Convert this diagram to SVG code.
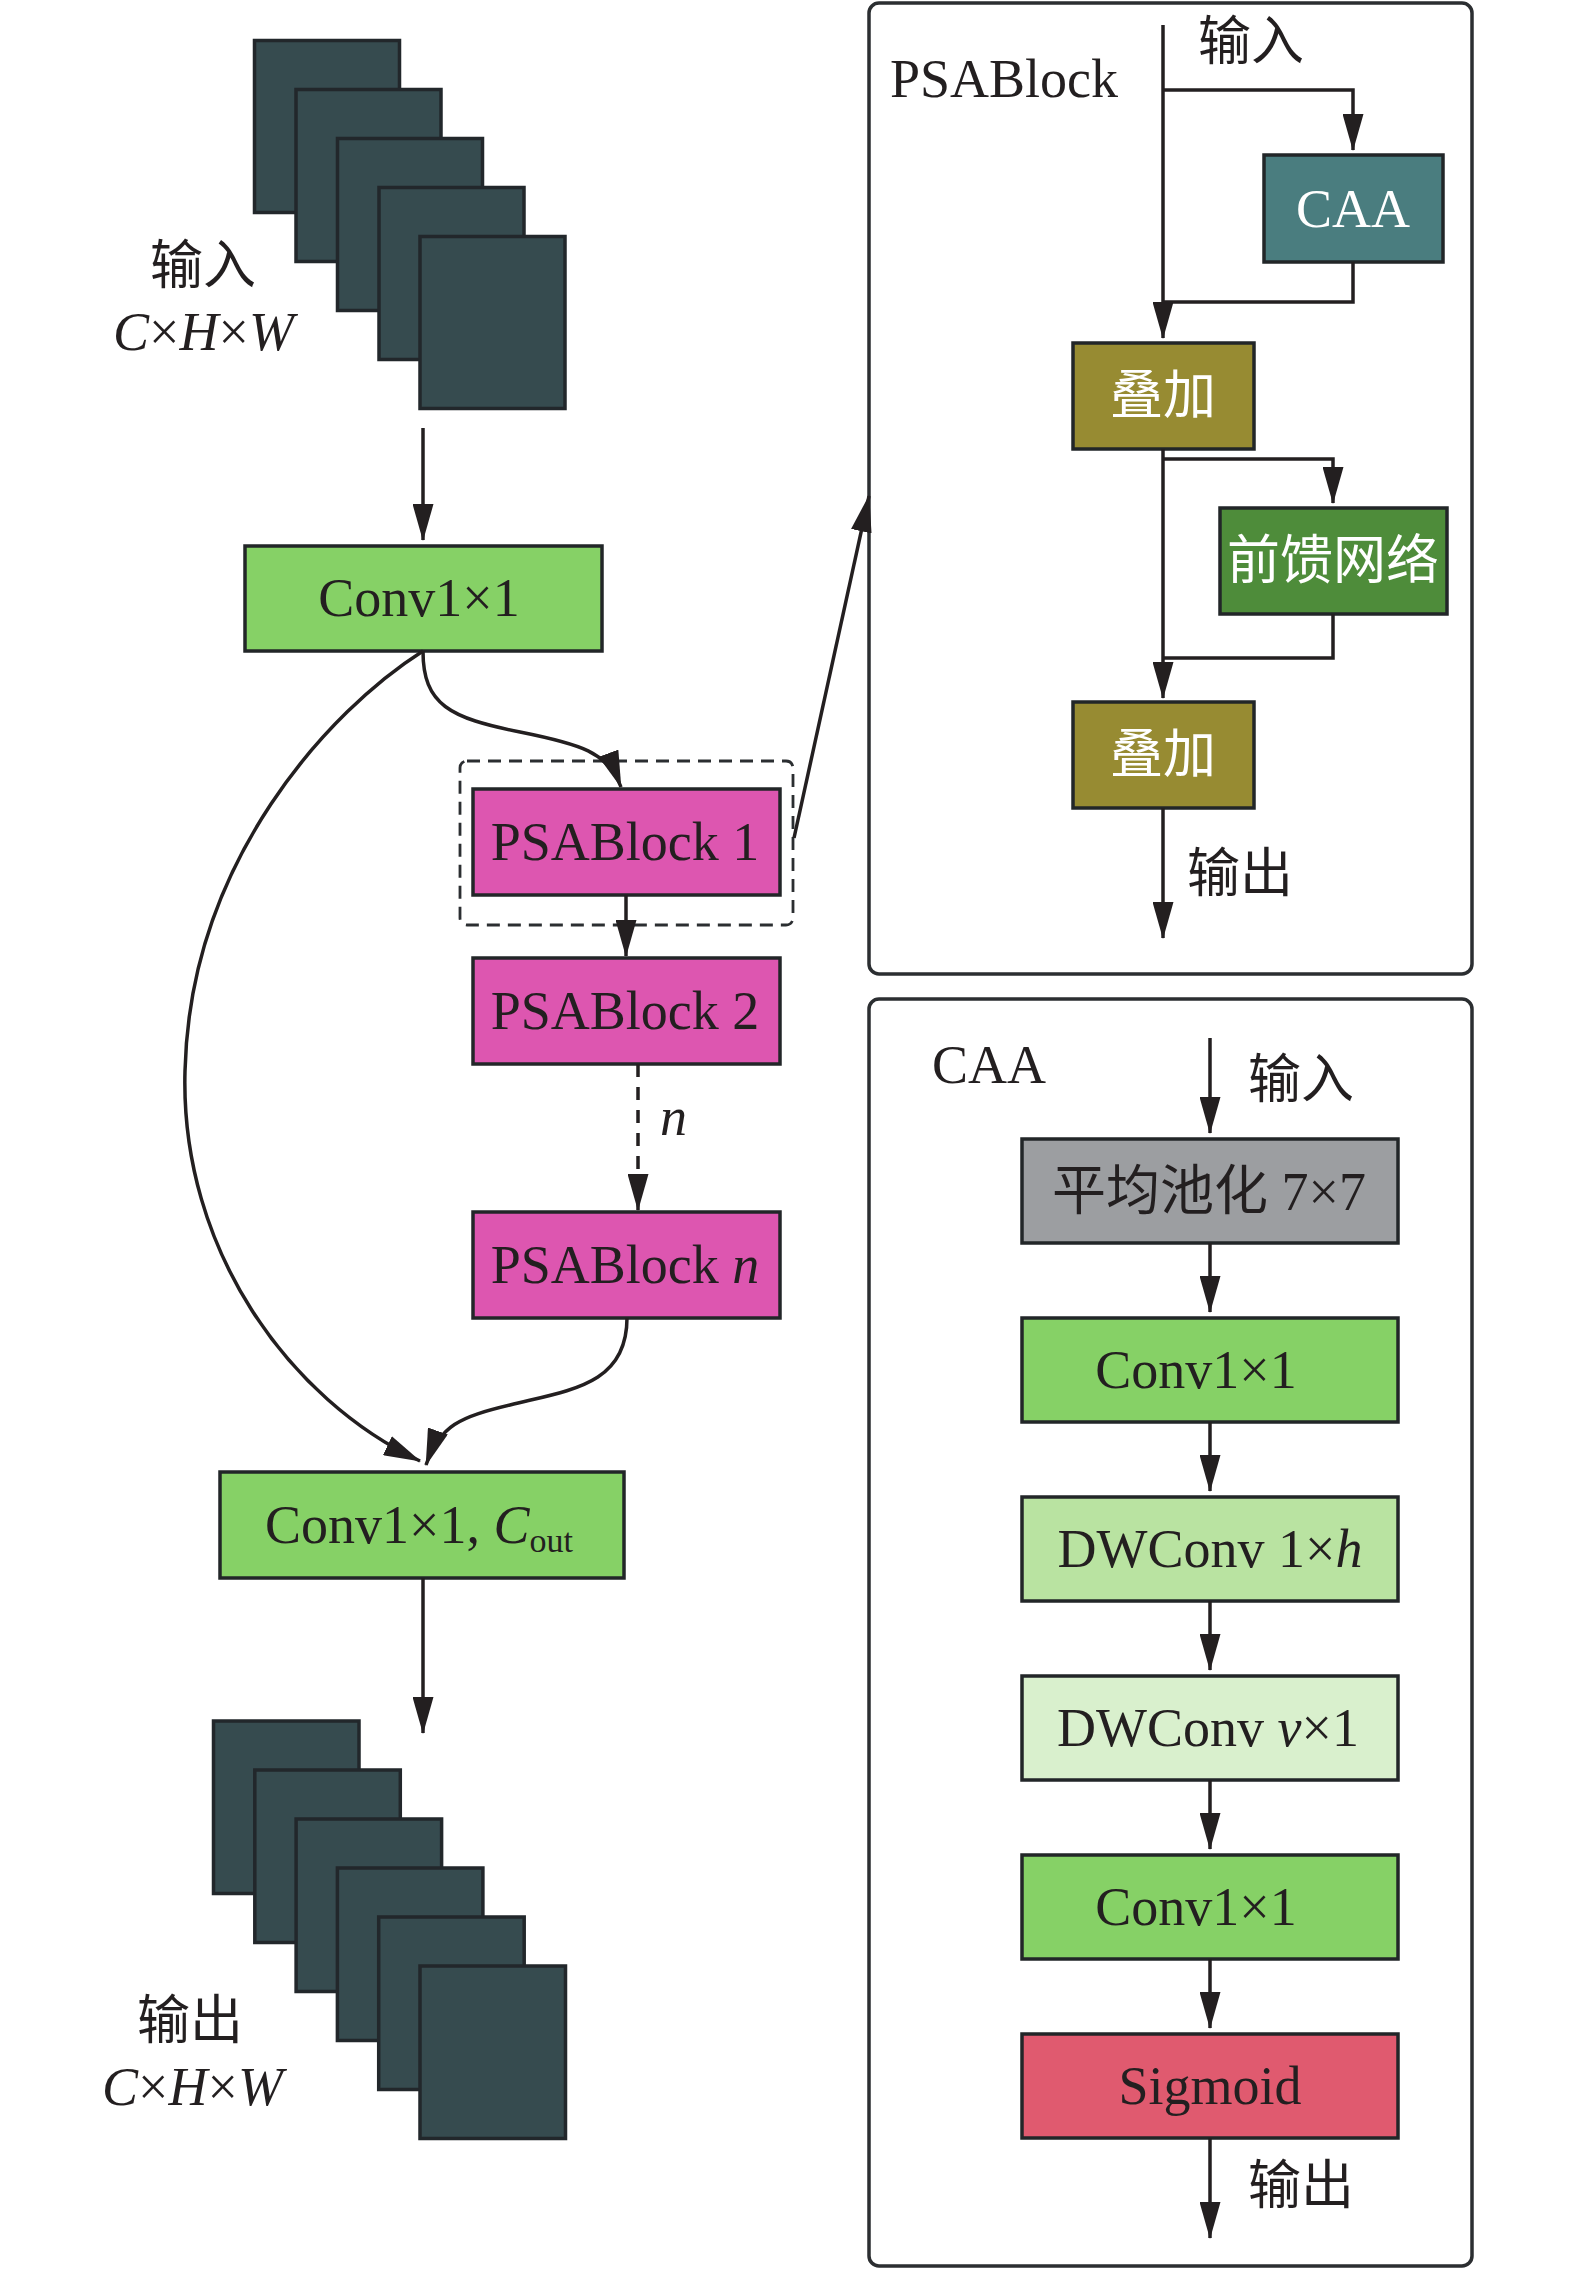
<svg xmlns="http://www.w3.org/2000/svg" width="1575" height="2270" viewBox="0 0 1575 2270">
<defs>
<style>
.t{font-family:"Liberation Serif","Noto Sans CJK SC",serif;font-size:54px;fill:#231f20}
.c{font-family:"Noto Sans CJK SC",sans-serif;font-size:53px;fill:#231f20}
.w{fill:#ffffff}
.i{font-style:italic}
.box{stroke:#222628;stroke-width:3.5}
.sq{fill:#364b4f;stroke:#22272b;stroke-width:3.5}
.conn{fill:none;stroke:#231f20;stroke-width:3.5}
.panel{fill:none;stroke:#2b2e31;stroke-width:3.5}
</style>
<marker id="ah" markerUnits="userSpaceOnUse" markerWidth="37" markerHeight="21" refX="36" refY="10.5" orient="auto">
<path d="M0,0 L37,10.5 L0,21 z" fill="#231f20"/>
</marker>
</defs>
<rect width="1575" height="2270" fill="#ffffff"/>

<g id="input-tensor">
<rect class="sq" x="254.5" y="40.5" width="145" height="172"/>
<rect class="sq" x="296" y="89.5" width="145" height="172"/>
<rect class="sq" x="337.5" y="138.5" width="145" height="172"/>
<rect class="sq" x="379" y="187.5" width="145" height="172"/>
<rect class="sq" x="420" y="236.5" width="145" height="172"/>
<text class="c" x="150" y="284">输入</text>
<text class="t" x="113" y="350"><tspan class="i">C</tspan>×<tspan class="i">H</tspan>×<tspan class="i">W</tspan></text>
</g>

<g id="conv1">
<rect class="box" x="245" y="546" width="357" height="105" fill="#86d166"/>
<text class="t" x="419" y="616" text-anchor="middle">Conv1×1</text>
</g>

<g id="psa1">
<rect x="460" y="761" width="333" height="164" rx="7" fill="none" stroke="#2b2e31" stroke-width="2.8" stroke-dasharray="13,8"/>
<rect class="box" x="473" y="789" width="307" height="106" fill="#dd56b0"/>
<text class="t" x="625" y="860" text-anchor="middle">PSABlock 1</text>
</g>

<g id="psa2">
<rect class="box" x="473" y="958" width="307" height="106" fill="#dd56b0"/>
<text class="t" x="625" y="1029" text-anchor="middle">PSABlock 2</text>
</g>

<g id="psan">
<rect class="box" x="473" y="1212" width="307" height="106" fill="#dd56b0"/>
<text class="t" x="625" y="1283" text-anchor="middle">PSABlock <tspan class="i">n</tspan></text>
</g>

<g id="conv-out">
<rect class="box" x="220" y="1472" width="404" height="106" fill="#86d166"/>
<text class="t" x="265" y="1543">Conv1×1, <tspan class="i">C</tspan><tspan font-size="34" dy="9">out</tspan></text>
</g>

<g id="output-tensor">
<rect class="sq" x="213.5" y="1721" width="145.5" height="172.5"/>
<rect class="sq" x="254.8" y="1770" width="145.5" height="172.5"/>
<rect class="sq" x="296.1" y="1819" width="145.5" height="172.5"/>
<rect class="sq" x="337.4" y="1868" width="145.5" height="172.5"/>
<rect class="sq" x="378.7" y="1917" width="145.5" height="172.5"/>
<rect class="sq" x="420" y="1966" width="145.5" height="172.5"/>
<text class="c" x="137" y="2039">输出</text>
<text class="t" x="102" y="2105"><tspan class="i">C</tspan>×<tspan class="i">H</tspan>×<tspan class="i">W</tspan></text>
</g>

<g id="psablock-panel">
<rect class="panel" x="869" y="3" width="603" height="971" rx="10"/>
<text class="t" x="890" y="97">PSABlock</text>
<text class="c" x="1198" y="60">输入</text>
<text class="c" x="1187" y="892">输出</text>
<g id="caa-node">
<rect class="box" x="1264" y="155" width="179" height="107" fill="#4a7d7f"/>
<text class="t w" x="1353" y="227" text-anchor="middle">CAA</text>
</g>
<g id="add1">
<rect class="box" x="1073" y="343" width="181" height="106" fill="#978b32"/>
<text class="c w" x="1163" y="414" text-anchor="middle">叠加</text>
</g>
<g id="ffn">
<rect class="box" x="1220" y="508" width="227" height="106" fill="#4e8c3a"/>
<text class="c w" x="1333" y="579" text-anchor="middle">前馈网络</text>
</g>
<g id="add2">
<rect class="box" x="1073" y="702" width="181" height="106" fill="#978b32"/>
<text class="c w" x="1163" y="773" text-anchor="middle">叠加</text>
</g>
</g>

<g id="caa-panel">
<rect class="panel" x="869" y="999" width="603" height="1267" rx="10"/>
<text class="t" x="932" y="1083">CAA</text>
<text class="c" x="1248" y="1098">输入</text>
<text class="c" x="1248" y="2204">输出</text>
<g id="avgpool">
<rect class="box" x="1022" y="1139" width="376" height="104" fill="#9c9ea1"/>
<text class="t" x="1209" y="1210" text-anchor="middle">平均池化 7×7</text>
</g>
<g id="caa-conv1">
<rect class="box" x="1022" y="1318" width="376" height="104" fill="#86d166"/>
<text class="t" x="1196" y="1388" text-anchor="middle">Conv1×1</text>
</g>
<g id="dw1">
<rect class="box" x="1022" y="1497" width="376" height="104" fill="#b9e3a1"/>
<text class="t" x="1210" y="1567" text-anchor="middle">DWConv 1×<tspan class="i">h</tspan></text>
</g>
<g id="dw2">
<rect class="box" x="1022" y="1676" width="376" height="104" fill="#d9f0cd"/>
<text class="t" x="1208" y="1746" text-anchor="middle">DWConv <tspan class="i">v</tspan>×1</text>
</g>
<g id="caa-conv2">
<rect class="box" x="1022" y="1855" width="376" height="104" fill="#86d166"/>
<text class="t" x="1196" y="1925" text-anchor="middle">Conv1×1</text>
</g>
<g id="sigmoid">
<rect class="box" x="1022" y="2034" width="376" height="104" fill="#e05a6f"/>
<text class="t" x="1210" y="2104" text-anchor="middle">Sigmoid</text>
</g>
</g>

<g id="connectors">
<path class="conn" d="M423,428 V540" marker-end="url(#ah)"/>
<path class="conn" d="M423,651 C423,705 450,718 520,732 C580,744 608,752 621,787" marker-end="url(#ah)"/>
<path class="conn" d="M423,651 C330,710 190,860 185,1071 C180,1250 290,1400 420,1461" marker-end="url(#ah)"/>
<path class="conn" d="M626,895 V956" marker-end="url(#ah)"/>
<path class="conn" d="M638,1064 V1210" stroke-dasharray="13,10" marker-end="url(#ah)"/>
<text class="t i" x="660" y="1135">n</text>
<path class="conn" d="M627,1318 C627,1385 570,1390 510,1405 C460,1417 440,1425 426,1465" marker-end="url(#ah)"/>
<path class="conn" d="M423,1578 V1733" marker-end="url(#ah)"/>
<path class="conn" d="M794,838 L869,496" marker-end="url(#ah)"/>
<path class="conn" d="M1163,25 V338" marker-end="url(#ah)"/>
<path class="conn" d="M1163,90 H1353 V150" marker-end="url(#ah)"/>
<path class="conn" d="M1353,262 V302 H1163"/>
<path class="conn" d="M1163,449 V698" marker-end="url(#ah)"/>
<path class="conn" d="M1163,459 H1333 V503" marker-end="url(#ah)"/>
<path class="conn" d="M1333,614 V658 H1163"/>
<path class="conn" d="M1163,808 V938" marker-end="url(#ah)"/>
<path class="conn" d="M1210,1038 V1133" marker-end="url(#ah)"/>
<path class="conn" d="M1210,1243 V1312" marker-end="url(#ah)"/>
<path class="conn" d="M1210,1422 V1491" marker-end="url(#ah)"/>
<path class="conn" d="M1210,1601 V1670" marker-end="url(#ah)"/>
<path class="conn" d="M1210,1780 V1849" marker-end="url(#ah)"/>
<path class="conn" d="M1210,1959 V2028" marker-end="url(#ah)"/>
<path class="conn" d="M1210,2138 V2238" marker-end="url(#ah)"/>
</g>
</svg>
